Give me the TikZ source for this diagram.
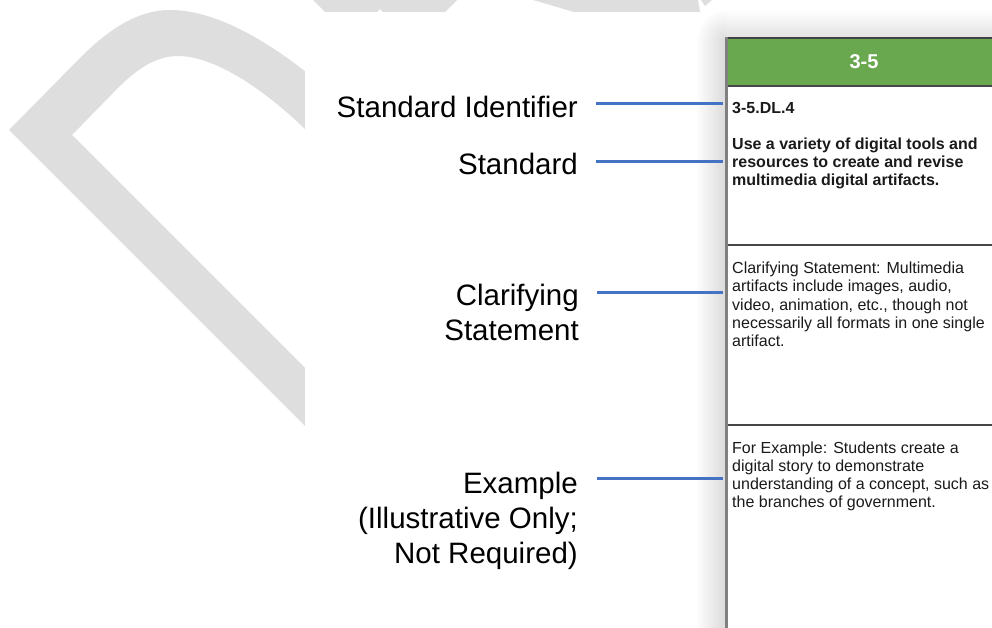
\documentclass[tikz,border=0pt]{standalone}
\usepackage{fontspec}
\setmainfont{Liberation Sans}
\definecolor{wm}{HTML}{DEDEDE}
\definecolor{hdrgreen}{HTML}{6AA84F}
\definecolor{blu}{HTML}{4472C4}
\definecolor{txt}{HTML}{1A1A1A}
\newcommand\rlines[1]{\vtop{\halign{\hfil##\cr#1\crcr}}}
\newcommand\llines[1]{\vtop{\halign{##\hfil\cr#1\crcr}}}
\begin{document}
\begin{tikzpicture}[x=1pt,y=-1pt,
  lbl/.style={anchor=base east, inner sep=0pt, font=\fontsize{29.5}{35}\selectfont, text=black},
  celltext/.style={anchor=base west, inner sep=0pt, font=\fontsize{16}{18.3}\selectfont, text=txt},
  cellbold/.style={celltext, font=\fontsize{16}{18}\selectfont\bfseries},
  hdrtext/.style={inner sep=0pt, font=\fontsize{20}{24}\selectfont\bfseries, text=white},
  conn/.style={draw=blu, line width=3pt},
  rowline/.style={draw=black!72, line width=1.8pt}]
\useasboundingbox (0,0) rectangle (992,628);
\fill[white] (0,0) rectangle (992,628);
% watermark
\fill[wm] (330,451) -- (9,130) -- (80,58) .. controls (105,33) and (135,10) .. (170,10)
  .. controls (215,10) and (265,40) .. (306,72) -- (330,92) -- (330,152) -- (306,130)
  .. controls (265,90) and (215,56) .. (178,56) .. controls (155,56) and (135,70) .. (113,93)
  -- (72,135) -- (330,393) -- cycle;
\fill[wm] (313,0) -- (457,0) -- (445,12) -- (383,12) -- (380,9) -- (377,12) -- (325,12) -- cycle;
\fill[wm] (533,0) -- (698,0) -- (700,12) -- (574,12) -- cycle;
\fill[wm] (701,0) -- (712,0) -- (705,6) -- cycle;
% panel mask
\fill[white] (305,12) rectangle (992,628);
% shadow
\shade[left color=white, right color=black!14] (695,38) rectangle (725,628);
\shade[top color=white, bottom color=black!12] (725,10) rectangle (992,38);
\begin{scope}
  \clip (695,10) rectangle (725,38);
  \shade[inner color=black!13, outer color=white] (725,38) circle (29);
\end{scope}
% table
\fill[white] (725,38) rectangle (992,628);
\fill[hdrgreen] (726,38) rectangle (992,86);
\draw[draw=black!75, line width=1.8pt] (725,38) -- (992,38);
\draw[rowline] (725,86) -- (992,86);
\draw[rowline] (725,245) -- (992,245);
\draw[rowline] (725,425) -- (992,425);
\draw[draw=black!50, line width=3pt] (726,37) -- (726,628);
% header
\node[hdrtext] (hdr) at (864,62) {3-5};
% cell texts
\node[cellbold] (sid) at (732,114) {3-5.DL.4};
\node[cellbold] (std) at (732,150) {\llines{Use a variety of digital tools and\cr resources to create and revise\cr multimedia digital artifacts.}};
\node[celltext] (clar) at (732,273.5) {\llines{Clarifying Statement: Multimedia\cr artifacts include images, audio,\cr video, animation, etc., though not\cr necessarily all formats in one single\cr artifact.}};
\node[celltext] (ex) at (732,453) {\llines{For Example: Students create a\cr digital story to demonstrate\cr understanding of a concept, such as\cr the branches of government.}};
% left labels
\node[lbl] (l1) at (578,118) {Standard Identifier};
\node[lbl] (l2) at (578,175) {Standard};
\node[lbl] (l3) at (579,305) {\rlines{Clarifying\cr Statement}};
\node[lbl] (l4) at (578,493) {\rlines{Example\cr (Illustrative Only;\cr Not Required)}};
% connectors
\coordinate (a1) at (596,104); \coordinate (b1) at (723,104);
\coordinate (a2) at (596,162); \coordinate (b2) at (723,162);
\coordinate (a3) at (597,292); \coordinate (b3) at (723,292);
\coordinate (a4) at (597,478); \coordinate (b4) at (723,478);
\draw[conn] (a1) -- (b1);
\draw[conn] (a2) -- (b2);
\draw[conn] (a3) -- (b3);
\draw[conn] (a4) -- (b4);
\end{tikzpicture}
\end{document}
